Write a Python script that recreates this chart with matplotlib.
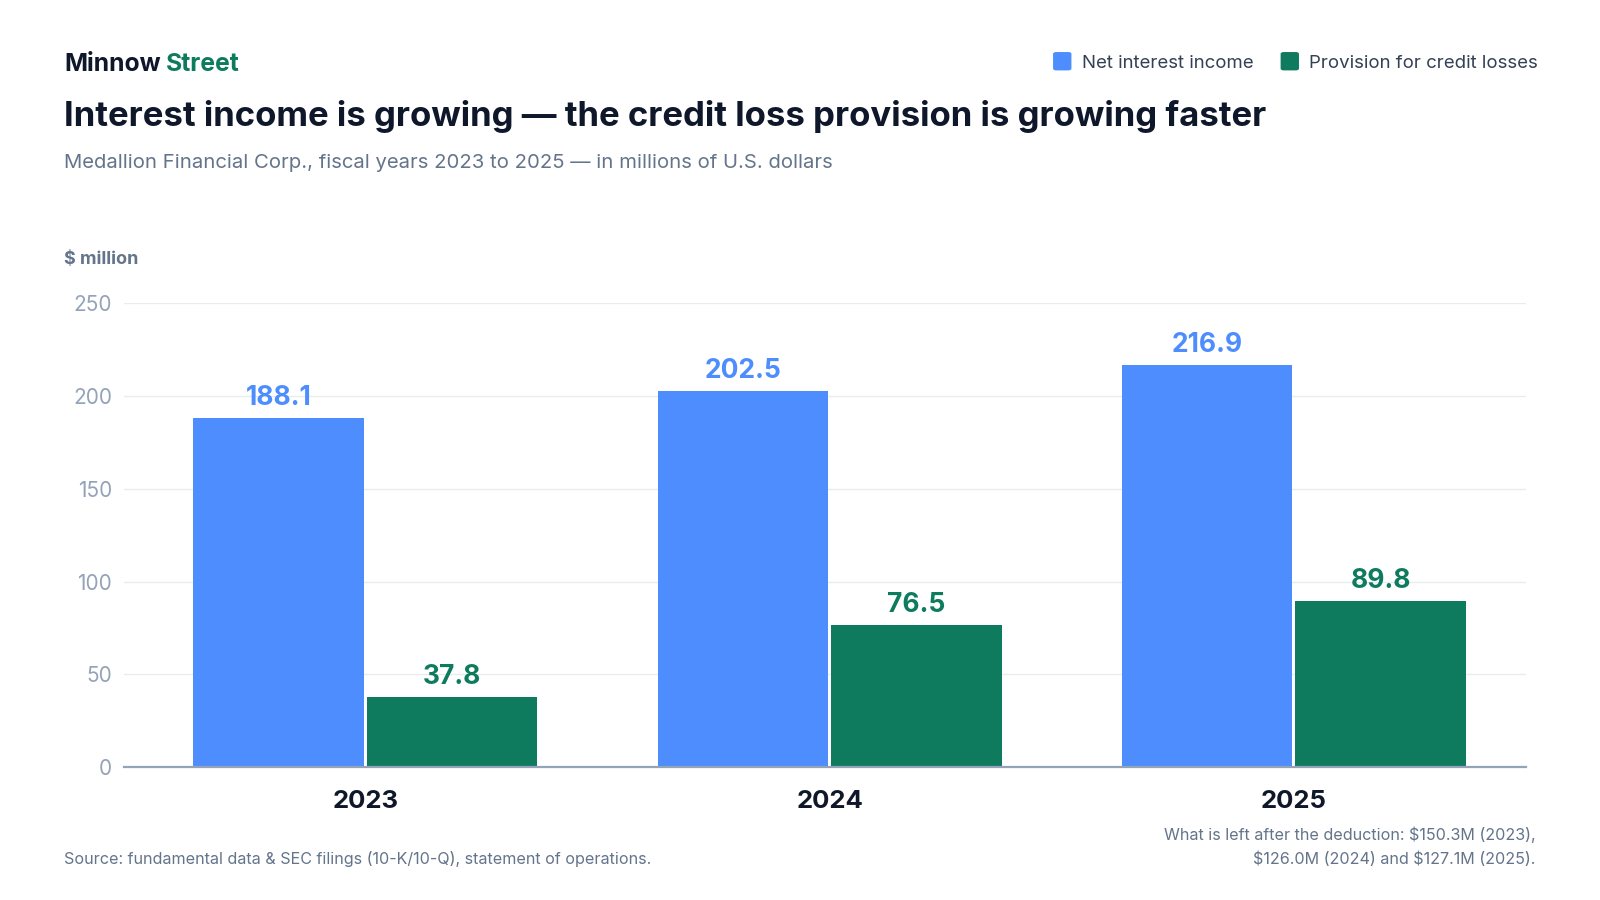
import matplotlib
matplotlib.use("Agg")
import matplotlib.pyplot as plt
from matplotlib.patches import FancyBboxPatch
import numpy as np

plt.rcParams['font.family'] = ['Inter', 'DejaVu Sans']

years = ["2023", "2024", "2025"]
net_interest_income = [188.1, 202.5, 216.9]
provision_credit_losses = [37.8, 76.5, 89.8]
y_ticks = [0, 50, 100, 150, 200, 250]

BLUE = "#4D8DFD"
GREEN = "#0E7B5E"
DARK = "#0F172A"
GRAY = "#64748B"
TICKGRAY = "#94A3B8"

fig = plt.figure(figsize=(16, 9), dpi=100)
fig.patch.set_facecolor("white")

# layout measured on a 1568x882 view of the 1600x900 canvas
DW, DH = 1568.0, 882.0
def fx(px): return px / DW
def fy(py): return 1 - py / DH

ax = fig.add_axes([fx(122), fy(752), fx(1495) - fx(122), (752 - 297) / DH])
x = np.arange(len(years))
bw = 0.367
off = 0.187
b1 = ax.bar(x - off, net_interest_income, bw, color=BLUE, zorder=3)
b2 = ax.bar(x + off, provision_credit_losses, bw, color=GREEN, zorder=3)

for bars, vals, col in ((b1, net_interest_income, BLUE), (b2, provision_credit_losses, GREEN)):
    for rect, v in zip(bars, vals):
        ax.annotate(f"{v:.1f}", (rect.get_x() + rect.get_width() / 2, v),
                    xytext=(0, 5), textcoords="offset points", ha="center", va="bottom",
                    fontsize=19, fontweight="bold", color=col, annotation_clip=False)

ax.set_xlim(-0.519, 2.499)
ax.set_ylim(0, 250)
ax.set_yticks(y_ticks)
ax.set_yticklabels([str(t) for t in y_ticks], fontsize=15, color=TICKGRAY)
ax.set_xticks(x)
ax.set_xticklabels(years, fontsize=18.5, fontweight="bold", color=DARK)
ax.tick_params(axis="y", length=0, pad=9)
ax.tick_params(axis="x", length=0, pad=16.5)
ax.grid(axis="y", color="#E8EBEF", linewidth=1, zorder=0)
for s in ["top", "right", "left"]:
    ax.spines[s].set_visible(False)
ax.spines["bottom"].set_color(TICKGRAY)
ax.spines["bottom"].set_linewidth(1.6)
ax.spines["bottom"].set_zorder(4)

# Header
t1 = fig.text(fx(63), fy(63), "Minnow", fontsize=17.8, fontweight="bold", color=DARK, va="center", ha="left")
fig.canvas.draw()
bb = t1.get_window_extent()
fig.text(bb.x1 / 1600 + fx(5), fy(63), "Street", fontsize=17.8, fontweight="bold", color=GREEN, va="center", ha="left")

fig.text(fx(63), fy(114), "Interest income is growing \u2014 the credit loss provision is growing faster",
         fontsize=25, fontweight="bold", color=DARK, va="center", ha="left")
fig.text(fx(63), fy(160), "Medallion Financial Corp., fiscal years 2023 to 2025 \u2014 in millions of U.S. dollars",
         fontsize=14.6, color=GRAY, va="center", ha="left")
fig.text(fx(63), fy(254), r"\$ million", fontsize=13, fontweight="bold", color=GRAY, va="center", ha="left")

# Legend
def legend_item(x_px, color, label):
    sq = FancyBboxPatch((fx(x_px), fy(69)), fx(18), 18 / DH,
                        boxstyle="round,pad=0,rounding_size=0.002",
                        transform=fig.transFigure, facecolor=color, edgecolor="none")
    fig.add_artist(sq)
    fig.text(fx(x_px + 28), fy(62), label, fontsize=13.4, color="#334155", va="center", ha="left")

legend_item(1032, BLUE, "Net interest income")
legend_item(1255, GREEN, "Provision for credit losses")

# Footer
fig.text(fx(63), fy(842), "Source: fundamental data & SEC filings (10-K/10-Q), statement of operations.",
         fontsize=11.6, color=GRAY, va="center", ha="left")
fig.text(fx(1505), fy(818), r"What is left after the deduction: \$150.3M (2023),",
         fontsize=11.6, color=GRAY, va="center", ha="right")
fig.text(fx(1505), fy(842), r"\$126.0M (2024) and \$127.1M (2025).",
         fontsize=11.6, color=GRAY, va="center", ha="right")

fig.savefig("out.png", dpi=100, facecolor="white")
